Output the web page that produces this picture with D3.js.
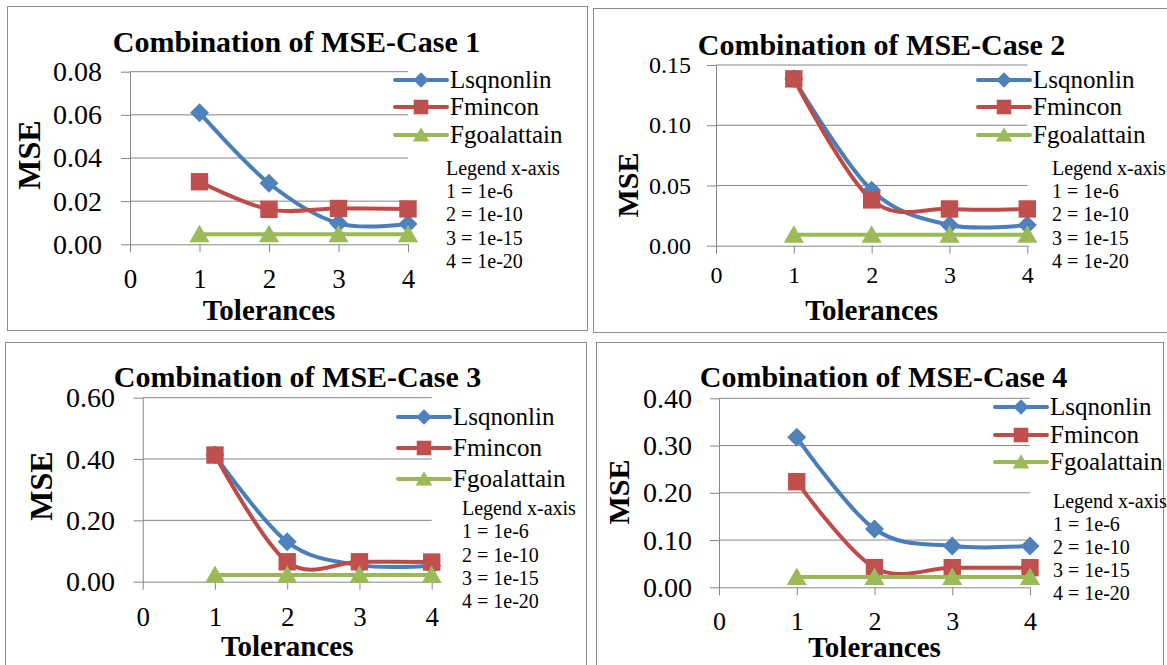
<!DOCTYPE html>
<html>
<head>
<meta charset="utf-8">
<script src="https://cdn.jsdelivr.net/npm/d3@7"></script>
<style>
  body { margin: 0; background: #fff; }
  svg { display: block; }
</style>
</head>
<body>
<div id="viz"></div>
<script>
// Data
const xTicks = [0, 1, 2, 3, 4];
const tolerances = [1, 2, 3, 4];
const seriesNames = ["Lsqnonlin", "Fmincon", "Fgoalattain"];
const legendNote = ["Legend x-axis", "1 = 1e-6", "2 = 1e-10", "3 = 1e-15", "4 = 1e-20"];

const case1Ticks = [0, 0.02, 0.04, 0.06, 0.08];
const case1Lsqnonlin = [0.061, 0.0283, 0.0097, 0.0094];
const case1Fmincon = [0.029, 0.0162, 0.0166, 0.0164];
const case1Fgoalattain = [0.0047, 0.0047, 0.0047, 0.0047];

const case2Ticks = [0, 0.05, 0.10, 0.15];
const case2Lsqnonlin = [0.1385, 0.046, 0.0172, 0.0172];
const case2Fmincon = [0.1385, 0.038, 0.0305, 0.0305];
const case2Fgoalattain = [0.009, 0.009, 0.009, 0.009];

const case3Ticks = [0, 0.20, 0.40, 0.60];
const case3Lsqnonlin = [0.413, 0.130, 0.054, 0.052];
const case3Fmincon = [0.413, 0.065, 0.065, 0.064];
const case3Fgoalattain = [0.022, 0.022, 0.022, 0.022];

const case4Ticks = [0, 0.10, 0.20, 0.30, 0.40];
const case4Lsqnonlin = [0.3175, 0.1234, 0.0874, 0.0874];
const case4Fmincon = [0.2235, 0.0415, 0.0415, 0.0415];
const case4Fgoalattain = [0.022, 0.022, 0.022, 0.022];

const lineColors = ["#4A7EBB", "#BE4B48", "#98B954"];
const markerColors = ["#4F81BD", "#C0504D", "#9BBB59"];
const serif = "'Liberation Serif', 'Times New Roman', serif";
const grey = "#868686";

// layout of each panel (pixels)
const panels = [
    { title: "Combination of MSE-Case 1", ticks: case1Ticks,
      series: [case1Lsqnonlin, case1Fmincon, case1Fgoalattain],
      box: [7, 6, 580, 324], x0: 130, x4: 408, yTop: 71.7, yBot: 244.3,
      yFont: 28, yPad: 19, xFont: 27, xPad: 17, titleX: 296.5, titleY: 52,
      tolY: 320, mseFont: 32, mseX: 40, mseY: 155,
      legX: 395, legRows: [80, 107, 135], noteX: 446, noteY: 175, noteStep: 23.2 },
    { title: "Combination of MSE-Case 2", ticks: case2Ticks,
      series: [case2Lsqnonlin, case2Fmincon, case2Fgoalattain],
      box: [593, 8, 580, 324], x0: 716, x4: 1027.3, yTop: 65, yBot: 245.7,
      yFont: 24, yPad: 16, xFont: 24, xPad: 12, titleX: 881.5, titleY: 55,
      tolY: 320, mseFont: 30, mseX: 638, mseY: 185,
      legX: 978, legRows: [80, 107, 135], noteX: 1052, noteY: 175, noteStep: 23.2 },
    { title: "Combination of MSE-Case 3", ticks: case3Ticks,
      series: [case3Lsqnonlin, case3Fmincon, case3Fgoalattain],
      box: [5, 342, 581, 330], x0: 142.7, x4: 431.7, yTop: 397.7, yBot: 581.7,
      yFont: 28, yPad: 18.7, xFont: 27, xPad: 17.5, titleX: 297.5, titleY: 387,
      tolY: 656, mseFont: 32, mseX: 52, mseY: 486,
      legX: 398, legRows: [417, 448, 479], noteX: 462, noteY: 515, noteStep: 23.3 },
    { title: "Combination of MSE-Case 4", ticks: case4Ticks,
      series: [case4Lsqnonlin, case4Fmincon, case4Fgoalattain],
      box: [596, 342, 567, 330], x0: 719, x4: 1030, yTop: 398.3, yBot: 587.3,
      yFont: 28, yPad: 18, xFont: 26, xPad: 16, titleX: 883.5, titleY: 387,
      tolY: 657, mseFont: 30, mseX: 629, mseY: 492,
      legX: 995, legRows: [407, 435, 462], noteX: 1053, noteY: 508.3, noteStep: 22.8 }
];

const svg = d3.select("#viz").append("svg")
    .attr("width", 1167)
    .attr("height", 665);

function marker(sel, kind, s, color) {
    if (kind === 0) {
        // diamond: a square turned 45 degrees
        sel.append("path")
            .attr("d", `M0,${-s / 2}L${s / 2},0L0,${s / 2}L${-s / 2},0Z`)
            .attr("fill", color);
    } else if (kind === 1) {
        sel.append("rect")
            .attr("x", -s * 0.47).attr("y", -s * 0.47)
            .attr("width", s * 0.94).attr("height", s * 0.94)
            .attr("fill", color);
    } else {
        sel.append("path")
            .attr("d", `M0,${-s * 0.5}L${s * 0.53},${s * 0.42}L${-s * 0.53},${s * 0.42}Z`)
            .attr("fill", color);
    }
}

panels.forEach(p => {
    const g = svg.append("g");

    const x = d3.scaleLinear().domain([0, 4]).range([p.x0, p.x4]);
    const y = d3.scaleLinear().domain([0, d3.max(p.ticks)]).range([p.yBot, p.yTop]);

    g.append("rect")
        .attr("x", p.box[0] + 0.5).attr("y", p.box[1] + 0.5)
        .attr("width", p.box[2]).attr("height", p.box[3])
        .attr("fill", "none")
        .attr("stroke", "#8c8c8c");

    // horizontal gridlines
    g.selectAll(".grid")
        .data(p.ticks.filter(d => d > 0))
        .join("line")
        .attr("x1", p.x0).attr("x2", p.x4)
        .attr("y1", d => y(d)).attr("y2", d => y(d))
        .attr("stroke", grey);

    const yAxis = d3.axisLeft(y)
        .tickValues(p.ticks)
        .tickFormat(d3.format(".2f"))
        .tickSizeInner(9).tickSizeOuter(0)
        .tickPadding(p.yPad);
    const yg = g.append("g")
        .attr("transform", `translate(${p.x0},0)`)
        .call(yAxis);
    yg.attr("font-size", p.yFont).attr("font-family", serif);

    const xAxis = d3.axisBottom(x)
        .tickValues(xTicks)
        .tickFormat(d3.format("d"))
        .tickSizeInner(8).tickSizeOuter(0)
        .tickPadding(p.xPad);
    const xg = g.append("g")
        .attr("transform", `translate(0,${p.yBot})`)
        .call(xAxis);
    xg.attr("font-size", p.xFont).attr("font-family", serif);

    g.selectAll(".domain, .tick line").attr("stroke", grey);
    g.selectAll(".tick text").attr("fill", "#000");

    // series
    const line = d3.line()
        .x((d, i) => x(tolerances[i]))
        .y(d => y(d))
        .curve(d3.curveCatmullRom.alpha(0));

    p.series.forEach((vals, k) => {
        g.append("path")
            .datum(vals)
            .attr("d", line)
            .attr("fill", "none")
            .attr("stroke", lineColors[k])
            .attr("stroke-width", 4)
            .attr("stroke-linejoin", "round");
        vals.forEach((v, i) => {
            const m = g.append("g").attr("transform", `translate(${x(tolerances[i])},${y(v)})`);
            marker(m, k, k === 1 ? 18.5 : 19, markerColors[k]);
        });
    });

    // titles
    g.append("text")
        .attr("x", p.titleX).attr("y", p.titleY)
        .attr("text-anchor", "middle")
        .style("font-family", serif).style("font-weight", "bold").style("font-size", "30px")
        .text(p.title);

    g.append("text")
        .attr("x", x(2)).attr("y", p.tolY)
        .attr("text-anchor", "middle")
        .style("font-family", serif).style("font-weight", "bold").style("font-size", "29px")
        .text("Tolerances");

    g.append("text")
        .attr("transform", `translate(${p.mseX},${p.mseY}) rotate(-90)`)
        .attr("text-anchor", "middle")
        .style("font-family", serif).style("font-weight", "bold").style("font-size", p.mseFont + "px")
        .text("MSE");

    // legend
    seriesNames.forEach((name, k) => {
        const ly = p.legRows[k];
        g.append("line")
            .attr("x1", p.legX).attr("x2", p.legX + 52)
            .attr("y1", ly).attr("y2", ly)
            .attr("stroke", lineColors[k])
            .attr("stroke-width", 4)
            .attr("stroke-linecap", "round");
        const m = g.append("g").attr("transform", `translate(${p.legX + 26},${ly})`);
        marker(m, k, 15.5, markerColors[k]);
        g.append("text")
            .attr("x", p.legX + 55).attr("y", ly)
            .attr("dy", "0.3em")
            .style("font-family", serif).style("font-size", "25px")
            .text(name);
    });

    legendNote.forEach((t, i) => {
        g.append("text")
            .attr("x", p.noteX).attr("y", p.noteY + i * p.noteStep)
            .style("font-family", serif).style("font-size", "20px")
            .text(t);
    });
});
</script>
</body>
</html>
